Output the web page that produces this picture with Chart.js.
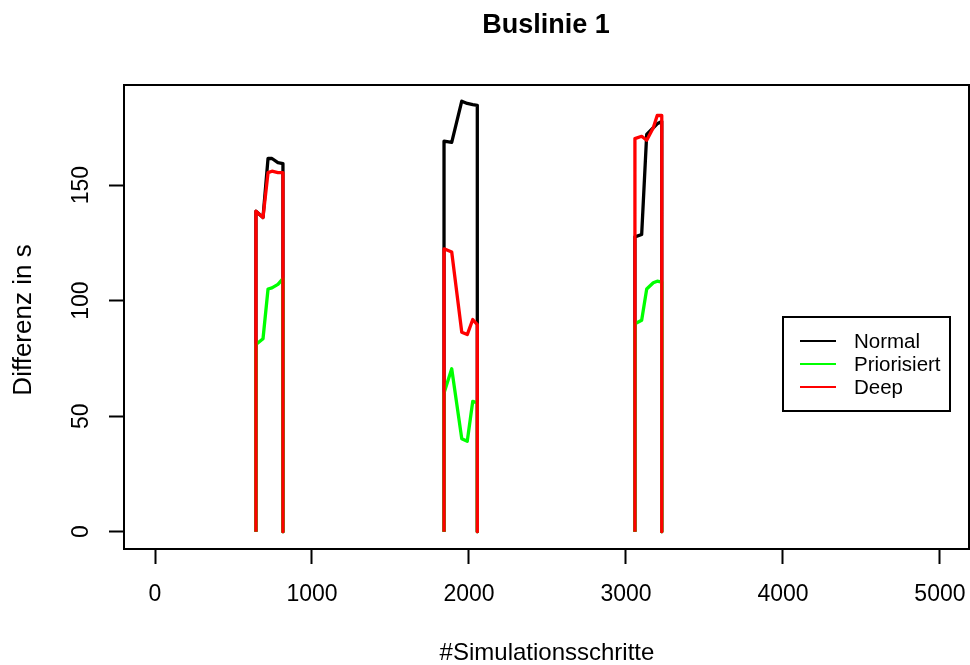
<!DOCTYPE html>
<html>
<head>
<meta charset="utf-8">
<script src="https://cdn.jsdelivr.net/npm/chart.js@4.4.0/dist/chart.umd.min.js"></script>
<style>
  html, body { margin: 0; padding: 0; background: #fff; }
  #wrap { width: 970px; height: 665px; }
</style>
</head>
<body>
<div id="wrap"><canvas id="chart" width="970" height="665"></canvas></div>
<script>
// Buslinie 1 - R style line plot, three short bursts
const peakSteps = [
  [643, 688, 720, 745, 783, 815],
  [1841, 1890, 1954, 1989, 2024, 2053],
  [3057, 3100, 3132, 3174, 3199, 3228]
];
const normalVals = [
  [138.7, 136, 161.5, 161.5, 159.7, 159.3],
  [169, 168.5, 186.3, 185.3, 184.8, 184.5],
  [127.6, 128.6, 171.9, 174.8, 176.5, 177.5]
];
const priorVals = [
  [81, 83.5, 105, 105.5, 107, 109.5],
  [60, 70.5, 40.2, 39.1, 56.4, 55.8],
  [90, 91.5, 105, 107.7, 108.4, 108]
];
const deepVals = [
  [138.7, 136, 155.4, 156, 155.4, 155.4],
  [122.4, 121, 86.3, 85.3, 91.8, 89.6],
  [170.1, 171.1, 169.4, 174.8, 180.1, 180.1]
];
const xTicks = [0, 1000, 2000, 3000, 4000, 5000];
const yTicks = [0, 50, 100, 150];
const seriesNames = ['Normal', 'Priorisiert', 'Deep'];
const seriesColors = ['#000000', '#00ff00', '#ff0000'];

const FONT = "'Liberation Sans', Arial, sans-serif";

// each burst starts and ends at 0, gaps between them
function toPoints(vals){
  const pts = [];
  peakSteps.forEach((st, i)=>{
    pts.push({x: st[0], y: 0});
    st.forEach((s, j)=> pts.push({x: s, y: vals[i][j]}));
    pts.push({x: st[st.length-1], y: 0});
    pts.push({x: st[st.length-1] + 1, y: null});
  });
  return pts;
}

const allVals = [normalVals, priorVals, deepVals];
const datasets = seriesNames.map((name, i)=>({
  label: name,
  data: toPoints(allVals[i]),
  borderColor: seriesColors[i],
  backgroundColor: seriesColors[i],
  borderWidth: 3.3,
  pointRadius: 0,
  tension: 0,
  spanGaps: false,
  borderJoinStyle: 'round',
  order: 3 - i   // red drawn last, on top
}));

const rDecor = {
  id: 'rDecor',
  afterDraw(chart){
    const ctx = chart.ctx;
    const a = chart.chartArea;
    ctx.save();
    // plot box
    ctx.strokeStyle = '#000'; ctx.lineWidth = 2;
    ctx.strokeRect(a.left, a.top, a.right - a.left, a.bottom - a.top);

    ctx.fillStyle = '#000';
    ctx.textAlign = 'center'; ctx.textBaseline = 'middle';
    ctx.font = 'bold 27px ' + FONT;
    ctx.fillText('Buslinie 1', 546, 26);

    ctx.font = '24px ' + FONT;
    ctx.fillText('#Simulationsschritte', 547, 653);

    ctx.save();
    ctx.translate(24, 320);
    ctx.rotate(-Math.PI/2);
    ctx.font = '26px ' + FONT;
    ctx.fillText('Differenz in s', 0, 0);
    ctx.restore();

    // legend box
    const lx = 783, ly = 317, lw = 167, lh = 94;
    ctx.fillStyle = '#fff';
    ctx.fillRect(lx, ly, lw, lh);
    ctx.strokeStyle = '#000'; ctx.lineWidth = 2;
    ctx.strokeRect(lx, ly, lw, lh);
    ctx.font = '20.5px ' + FONT;
    ctx.textAlign = 'left';
    seriesNames.forEach((n, i)=>{
      const yy = 341 + i*23;
      ctx.strokeStyle = seriesColors[i]; ctx.lineWidth = 2;
      ctx.beginPath(); ctx.moveTo(800, yy); ctx.lineTo(836, yy); ctx.stroke();
      ctx.fillStyle = '#000';
      ctx.fillText(n, 854, yy + 1);
    });
    ctx.restore();
  }
};

new Chart(document.getElementById('chart').getContext('2d'), {
  type: 'line',
  data: { datasets },
  options: {
    responsive: false,
    animation: false,
    devicePixelRatio: 1,
    layout: { padding: { top: 85, right: 1, left: 0, bottom: 0 } },
    plugins: { legend: { display: false }, tooltip: { enabled: false }, title: { display: false } },
    scales: {
      x: {
        type: 'linear',
        min: -197.5, max: 5185,
        afterBuildTicks: s => { s.ticks = xTicks.map(v=>({value:v})); },
        afterFit: s => { s.height = 116; s.paddingLeft = 0; s.paddingRight = 0; },
        grid: { display: true, drawOnChartArea: false, drawTicks: true, tickLength: 15, tickWidth: 2, tickColor: '#000' },
        border: { display: false },
        ticks: { color: '#000', font: { family: FONT, size: 23 }, padding: 17, maxRotation: 0, autoSkip: false,
                 callback: v => String(v) }
      },
      y: {
        type: 'linear',
        min: -7.5, max: 193.3,
        afterBuildTicks: s => { s.ticks = yTicks.map(v=>({value:v})); },
        afterFit: s => { s.width = 124; s.paddingTop = 0; s.paddingBottom = 0; },
        grid: { display: true, drawOnChartArea: false, drawTicks: true, tickLength: 15, tickWidth: 2, tickColor: '#000' },
        border: { display: false },
        ticks: { color: '#000', font: { family: FONT, size: 23 }, padding: 8, minRotation: 90, maxRotation: 90, crossAlign: 'center', autoSkip: false,
                 callback: v => String(v) }
      }
    }
  },
  plugins: [rDecor]
});
</script>
</body>
</html>
